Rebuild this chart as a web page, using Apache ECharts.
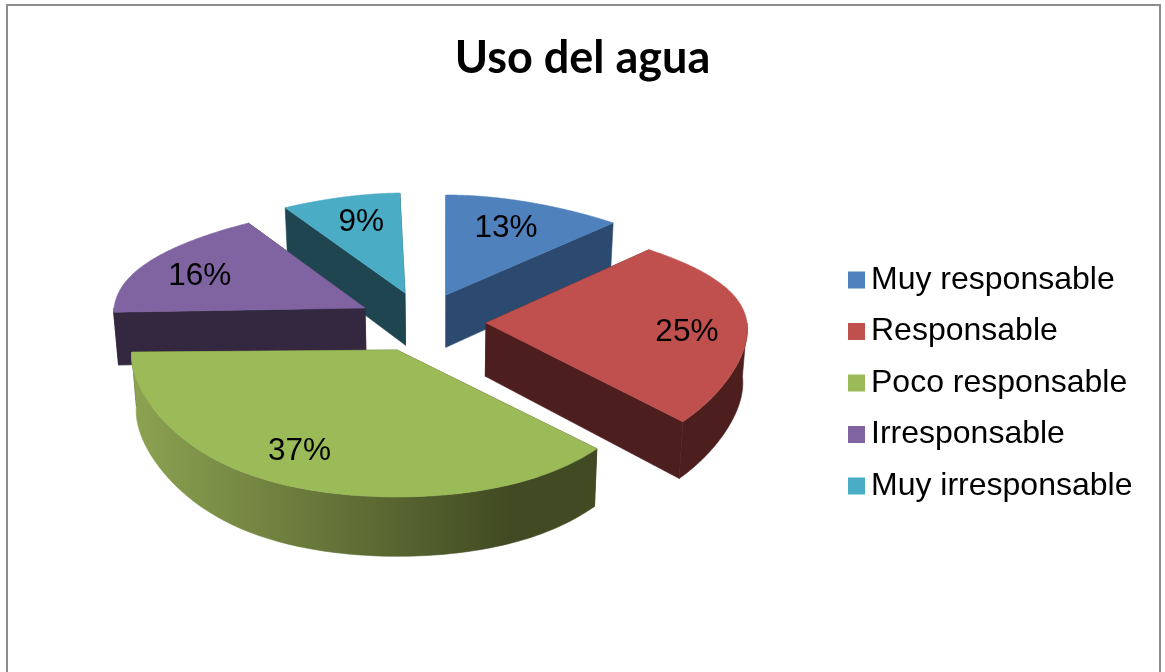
<!DOCTYPE html>
<html>
<head>
<meta charset="utf-8">
<style>html,body{margin:0;padding:0;background:#fff}#c{width:1165px;height:672px}</style>
<script src="https://cdn.jsdelivr.net/npm/echarts@6/dist/echarts.min.js"></script>
</head>
<body>
<div id="c"></div>
<script>
const categories = ['Muy responsable', 'Responsable', 'Poco responsable', 'Irresponsable', 'Muy irresponsable'];
const values = [13, 25, 37, 16, 9];

const topColors = ['#4f81bd', '#c0504d', '#9bbb59', '#8064a2', '#4bacc6'];
const wallColors = ['#2c4a6f', '#4d1e1e', '#414a22', '#332840', '#1f4650'];
const rimLeftColors = ['#2c4a6f', '#4d1e1e', '#8ca251', '#332840', '#1f4650'];
const drawOrder = [3, 4, 5, 2, 1];

// exploded-slice placement of the perspective pie
const apexes = [[446, 295], [486, 323], [397, 350], [365, 308], [405, 293]];
const radii = [262, 261, 265, 251, 262];
const sliceTurnDeg = [0, -1, -1, -2, -1.5];
const labelNudges = [[-1, 3], [5, 8], [-9, 1], [-7, 5], [2, 1]];
const ryBase = 119, persp = 0.19;
const vanishX = 440, bottomScale = 0.985;
const labelFactor = 0.75;
const total = values.reduce(function (a, b) { return a + b; }, 0);

function project(i, ang) {
  const u = Math.sin(ang), v = -Math.cos(ang);
  const wx = 1 - 0.06 * v + 0.08 * v * v - 0.2 * v * v * v;
  const wy = 1 - persp * v;
  return [apexes[i][0] + radii[i] * u / wx, apexes[i][1] + ryBase * v / wy];
}
function lower(p) {
  return [vanishX + (p[0] - vanishX) * bottomScale, p[1] + 42 + 0.035 * p[1]];
}
function renderSlice(params, api) {
  const i = params.seriesIndex;
  let before = 0;
  for (let k = 0; k < i; k++) before += values[k];
  const val = api.value(0);
  const a0 = sliceTurnDeg[i] * Math.PI / 180 + before / total * Math.PI * 2;
  const a1 = a0 + val / total * Math.PI * 2;
  const arc = [], front = [];
  const n = 120;
  for (let s = 0; s <= n; s++) {
    const a = a0 + (a1 - a0) * s / n;
    const p = project(i, a);
    arc.push(p);
    if (-Math.cos(a) >= 0) front.push(p);
  }
  const apex = apexes[i];
  const apexLow = lower(apex);
  const rimFill = {
    type: 'linear', x: 135, y: 0, x2: 510, y2: 0, global: true,
    colorStops: [
      { offset: 0, color: rimLeftColors[i] },
      { offset: 1, color: wallColors[i] }
    ]
  };
  function poly(points, fill) {
    return { type: 'polygon', shape: { points: points }, style: { fill: fill, stroke: fill, lineWidth: 0.6 }, silent: true };
  }
  const lab = project(i, (a0 + a1) / 2);
  const labelPos = [
    apex[0] + (lab[0] - apex[0]) * labelFactor + labelNudges[i][0],
    apex[1] + (lab[1] - apex[1]) * labelFactor + labelNudges[i][1]
  ];
  const children = [
    poly([apex, arc[0], lower(arc[0]), apexLow], wallColors[i]),
    poly([apex, arc[n], lower(arc[n]), apexLow], wallColors[i])
  ];
  if (front.length > 1) {
    children.push(poly(front.concat(front.map(lower).reverse()), rimFill));
  }
  children.push(poly([apex].concat(arc), topColors[i]));
  children.push({
    type: 'text', silent: true,
    style: {
      text: Math.round(val / total * 100) + '%',
      x: labelPos[0], y: labelPos[1],
      align: 'center', verticalAlign: 'middle',
      fontFamily: '"Liberation Sans", Arial, sans-serif', fontSize: 31.5, fill: '#000'
    }
  });
  return { type: 'group', children: children };
}

const chart = echarts.init(document.getElementById('c'), null, { renderer: 'canvas' });
chart.setOption({
  animation: false,
  backgroundColor: '#ffffff',
  title: {
    text: 'Uso del agua',
    left: 'center',
    top: 31,
    textStyle: { fontFamily: 'Lato, "Open Sans", sans-serif', fontWeight: 'bold', fontSize: 45, color: '#000' }
  },
  legend: {
    orient: 'vertical',
    left: 843,
    top: 259,
    itemWidth: 17,
    itemHeight: 17,
    itemGap: 19.5,
    icon: 'rect',
    selectedMode: false,
    data: categories,
    textStyle: { fontFamily: '"Liberation Sans", Arial, sans-serif', fontSize: 32, color: '#000', padding: [0, 0, 0, 1] }
  },
  graphic: [{
    type: 'rect', silent: true, z: -10,
    shape: { x: 7, y: 5, width: 1153, height: 720 },
    style: { fill: 'none', stroke: '#8c8c8c', lineWidth: 2 }
  }],
  series: categories.map(function (name, i) {
    return {
      type: 'custom',
      name: name,
      coordinateSystem: 'none',
      z: drawOrder[i],
      itemStyle: { color: topColors[i] },
      renderItem: renderSlice,
      data: [[values[i]]]
    };
  })
});
</script>
</body>
</html>
